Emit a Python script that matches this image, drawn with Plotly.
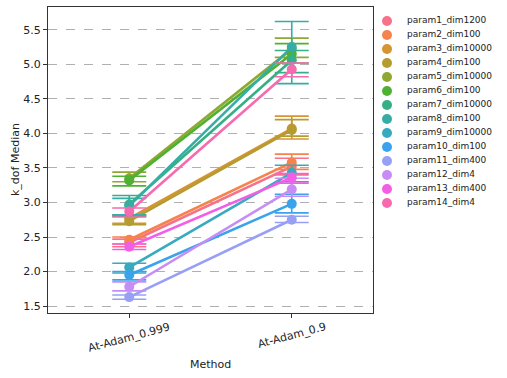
import plotly.graph_objects as go

methods = ["At-Adam_0.999", "At-Adam_0.9"]
params = ["param1_dim1200", "param2_dim100", "param3_dim10000", "param4_dim100",
          "param5_dim10000", "param6_dim100", "param7_dim10000", "param8_dim100",
          "param9_dim10000", "param10_dim100", "param11_dim400", "param12_dim4",
          "param13_dim400", "param14_dim4"]

# median per method, and the lower / upper ends of the error bars
median_0999 = [2.42, 2.46, 2.77, 2.73, 3.35, 3.32, 2.97, 2.95, 2.06, 1.95, 1.63, 1.78, 2.36, 2.87]
median_09 = [3.52, 3.58, 4.07, 4.05, 5.22, 5.15, 5.06, 5.25, 3.43, 2.98, 2.75, 3.19, 3.36, 4.93]
low_0999 = [2.36, 2.40, 2.70, 2.68, 3.30, 3.24, 2.80, 2.82, 1.98, 1.88, 1.60, 1.72, 2.32, 2.79]
high_0999 = [2.47, 2.50, 2.82, 2.80, 3.44, 3.38, 3.10, 3.06, 2.12, 2.00, 1.66, 1.85, 2.40, 2.92]
low_09 = [3.40, 3.48, 3.92, 3.96, 5.10, 5.02, 4.88, 4.72, 3.30, 2.85, 2.71, 3.09, 3.28, 4.82]
high_09 = [3.64, 3.70, 4.25, 4.20, 5.38, 5.30, 5.20, 5.62, 3.54, 3.12, 2.80, 3.35, 3.42, 5.02]

colors = ["#f77189", "#f5834b", "#d69432", "#b59c31", "#8ea831", "#4fb132", "#34af86",
          "#36ada4", "#38aabf", "#3ba3ec", "#98a0f5", "#c78df5", "#f25fe6", "#f66bb0"]

W, H = 507, 378
ml, mt, mb = 48, 7, 65
plot_w = W - ml
plot_h = H - mt - mb
main_right = 325 / plot_w  # axes frame ends at x=373 px
txt = "#222222"

fig = go.Figure()
for i, name in enumerate(params):
    y = [median_0999[i], median_09[i]]
    hi = [high_0999[i] - median_0999[i], high_09[i] - median_09[i]]
    lo = [median_0999[i] - low_0999[i], median_09[i] - low_09[i]]
    fig.add_trace(go.Scatter(
        x=[0, 1], y=y, mode="lines+markers", name=name, showlegend=False,
        line=dict(color=colors[i], width=2.6),
        marker=dict(color=colors[i], size=10),
        error_y=dict(type="data", array=hi, arrayminus=lo, color=colors[i],
                     thickness=1.6, width=17),
    ))

# hand-made legend on its own hidden axes (rows 14 px apart)
rows = [-k for k in range(len(params))]
fig.add_trace(go.Scatter(
    x=[14] * len(params), y=rows, mode="markers", showlegend=False,
    marker=dict(color=colors, size=10), xaxis="x2", yaxis="y2", hoverinfo="skip",
))
fig.add_trace(go.Scatter(
    x=[34] * len(params), y=rows, mode="text", text=params, textposition="middle right",
    textfont=dict(size=9, color=txt), showlegend=False,
    xaxis="x2", yaxis="y2", hoverinfo="skip",
))

axis_style = dict(showline=True, linecolor="#333333", linewidth=1, mirror=True,
                  ticks="outside", ticklen=4, tickcolor="#333333",
                  tickfont=dict(size=11, color=txt), zeroline=False, automargin=False)

# rotated category labels, centred under the ticks like matplotlib does
annotations = []
for i, m in enumerate(methods):
    annotations.append(dict(x=i, y=0, xref="x", yref="paper", text=m, showarrow=False,
                            textangle=-15, xanchor="center", yanchor="top", yshift=-5,
                            font=dict(size=11, color=txt)))
annotations.append(dict(x=0.5, y=0, xref="x", yref="paper", text="Method", showarrow=False,
                        xanchor="center", yanchor="middle", yshift=-51,
                        font=dict(size=11, color=txt)))
annotations.append(dict(x=0, y=0.5, xref="paper", yref="paper", text="k_dof Median",
                        showarrow=False, textangle=-90, xanchor="center", yanchor="middle",
                        xshift=-33, font=dict(size=11, color=txt)))

fig.update_layout(
    xaxis=dict(domain=[0, main_right], range=[-0.5, 1.5], tickvals=[0, 1],
               showticklabels=False, showgrid=False, **axis_style),
    yaxis=dict(range=[1.4, 5.83], tickvals=[1.5, 2.0, 2.5, 3.0, 3.5, 4.0, 4.5, 5.0, 5.5],
               ticktext=["1.5", "2.0", "2.5", "3.0", "3.5", "4.0", "4.5", "5.0", "5.5"],
               showgrid=True, gridcolor="#b0b0b0", griddash="dash", gridwidth=0.8,
               **axis_style),
    xaxis2=dict(domain=[main_right, 1], range=[0, W - 373], visible=False, fixedrange=True),
    yaxis2=dict(domain=[0, 1], anchor="x2", range=[1 - plot_h / 14, 1], visible=False,
                fixedrange=True),
    annotations=annotations,
    width=W, height=H,
    margin=dict(l=ml, r=0, t=mt, b=mb),
    plot_bgcolor="white", paper_bgcolor="white",
    font=dict(family="DejaVu Sans"),
    showlegend=False,
)

fig.write_html("out.html", config={"displayModeBar": False},
               post_script="document.body.style.margin='0';")
